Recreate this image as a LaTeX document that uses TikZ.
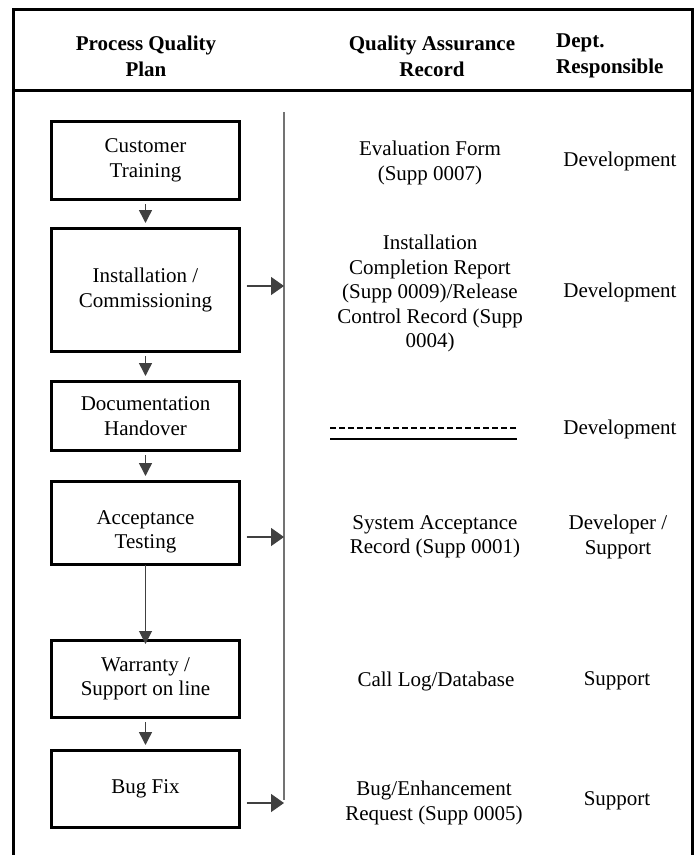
\documentclass[tikz,border=0pt]{standalone}
\usepackage{fontspec}
\setmainfont{Liberation Serif}
\usetikzlibrary{arrows.meta,positioning}

\begin{document}
\begin{tikzpicture}
[
	               x = 1pt, y = -1pt,
	              >= {Triangle[length=13pt,width=13pt]},
	every node/.style = { font=\fontsize{21}{24.5}\selectfont, inner sep=0pt },
	    stage/.style = { draw=black, line width=3pt, minimum width=188pt, align=center },
	   record/.style = { align=center },
	     dept/.style = { align=center },
	     head/.style = { font=\fontsize{21}{26}\selectfont\bfseries, align=center },
	     flow/.style = { ->, draw=black!75, fill=black!75, line width=1.5pt },
	     link/.style = { flow, shorten <=3pt, shorten >=4pt },
	     feed/.style = { flow, -{Triangle[length=13pt,width=18pt]}, shorten <=5.5pt },
	      bus/.style = { draw=black!55, line width=2pt }
]
	\useasboundingbox (0,0) rectangle (698,855);
	\clip (0,0) rectangle (698,855);

	% frame and heading
	\draw [line width=3pt] (13,870) -- (13,9) -- (692,9) -- (692,870);
	\draw [line width=3pt] (13,90) -- (692,90);
	\node (h1) at (146,56)  [head] {Process Quality\\Plan};
	\node (h2) at (432,56)  [head] {Quality Assurance\\Record};
	\node (h3) at (556,56)  [head, anchor=west, align=left] {Dept.\\Responsible};

	% process quality plan
	\node (s1) at (145.5,160.5) [stage, minimum height=78pt]  {Customer\\Training};
	\node (s2) at (145.5,290)   [stage, minimum height=123pt] {Installation /\\Commissioning};
	\node (s3) at (145.5,416)   [stage, minimum height=69pt]  {Documentation\\Handover};
	\node (s4) at (145.5,523)   [stage, minimum height=83pt,
	                             label={[yshift=-9pt, align=center]center:Acceptance\\Testing}] {};
	\node (s5) at (145.5,679)   [stage, minimum height=77pt]  {Warranty /\\Support on line};
	\node (s6) at (145.5,789)   [stage, minimum height=77pt]  {Bug Fix};
	\draw [link] (s1) -- (s2);
	\draw [link] (s2) -- (s3);
	\draw [link] (s3) -- (s4);
	\draw [flow, line width=1pt, shorten <=-1.5pt, shorten >=-5pt] (s4) -- (s5);
	\draw [link] (s5) -- (s6);

	% records bus
	\coordinate (b0) at (284,112);
	\coordinate (b9) at (284,800);
	\coordinate (t2) at (284,286);
	\coordinate (t4) at (284,537);
	\coordinate (t6) at (284,803);
	\draw [bus] (b0) -- (b9);
	\draw [feed] (s2.east |- t2) -- (t2);
	\draw [feed] (s4.east |- t4) -- (t4);
	\draw [feed] (s6.east |- t6) -- (t6);

	% quality assurance records
	\node (r1) at (430,163) [record] {Evaluation Form\\(Supp 0007)};
	\node (r2) at (430,293.5) [record] {Installation\\Completion Report\\(Supp 0009)/Release\\Control Record (Supp\\0004)};
	\draw [line width=1.5pt, dash pattern=on 6pt off 3pt] (330,428) -- (517,428);
	\draw [line width=2.5pt] (330,439) -- (517,439);
	\node (r4) at (435,537) [record] {System Acceptance\\Record (Supp 0001)};
	\node (r5) at (436,681) [record] {Call Log/Database};
	\node (r6) at (434,803) [record] {Bug/Enhancement\\Request (Supp 0005)};

	% departments
	\node (d1) at (620,161) [dept] {Development};
	\node (d2) at (620,292) [dept] {Development};
	\node (d3) at (620,429) [dept] {Development};
	\node (d4) at (618,537) [dept] {Developer /\\Support};
	\node (d5) at (617,681) [dept] {Support};
	\node (d6) at (617,801) [dept] {Support};

\end{tikzpicture}
\end{document}
